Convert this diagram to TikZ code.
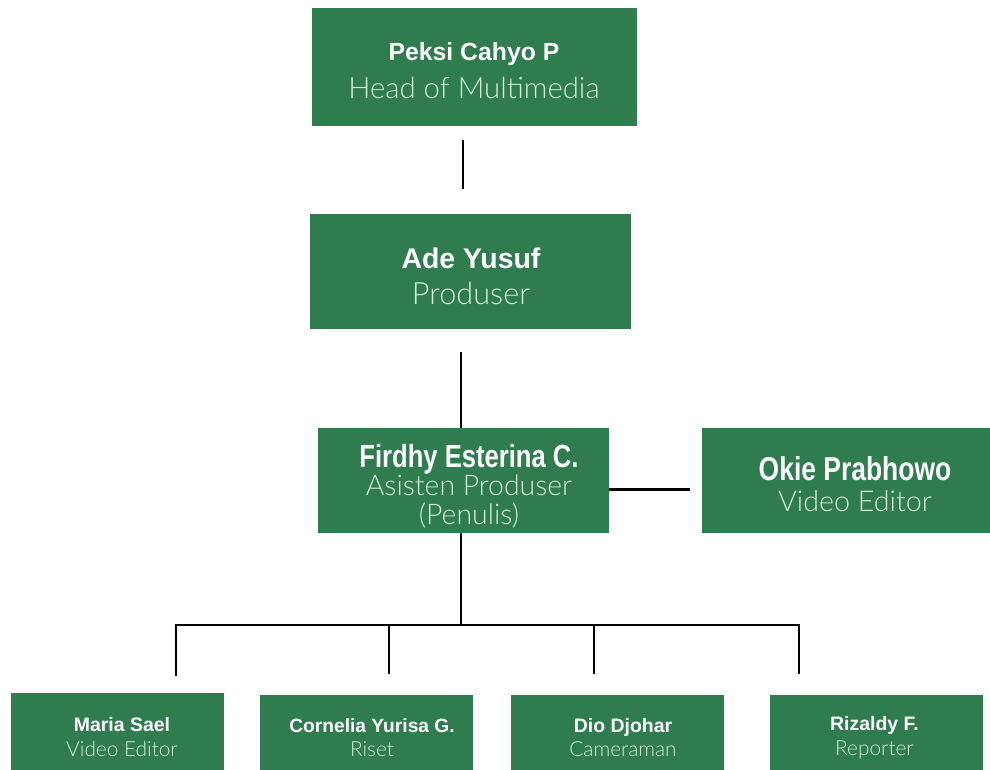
\documentclass[tikz,border=0pt]{standalone}
\usepackage{fontspec}
\setmainfont{Liberation Sans}
\newfontfamily\lightf{Lato Light}
\newfontfamily\narrowf{Liberation Sans}[FakeStretch=0.8]
\definecolor{boxgreen}{HTML}{2F7D4E}
\definecolor{rolecol}{HTML}{D6EDD8}
\begin{document}
\begin{tikzpicture}[x=0.75pt,y=-0.75pt,
  box/.style={fill=boxgreen, draw=none, inner sep=0pt},
  txt/.style={inner sep=0pt, align=center, text=white},
  conn/.style={line width=2.2pt, draw=black}]
\useasboundingbox (0,0) rectangle (990,770);
% main boxes
\node[box, minimum width=243.75pt, minimum height=88.5pt] (b1) at (474.5,67) {};
\node[box, minimum width=240.75pt, minimum height=86.25pt] (b2) at (470.5,271.5) {};
\node[box, minimum width=218.25pt, minimum height=78.75pt] (b3) at (463.5,480.5) {};
\node[box, minimum width=216pt, minimum height=78.75pt] (b4) at (846,480.5) {};
% bottom boxes
\node[box, minimum width=159.75pt, minimum height=57.75pt] (ba) at (117.5,731.5) {};
\node[box, minimum width=159.75pt, minimum height=56.25pt] (bb) at (366.5,732.5) {};
\node[box, minimum width=159.75pt, minimum height=56.25pt] (bc) at (617.5,732.5) {};
\node[box, minimum width=159.75pt, minimum height=56.25pt] (bd) at (876.5,732.5) {};
% texts
\node[txt, font=\fontsize{18.6}{28.5}\selectfont] (t1) at (474,71)
  {{\bfseries Peksi Cahyo P}\\{\fontsize{22}{28.5}\selectfont\lightf\color{rolecol}Head of Multimedia}};
\node[txt, font=\fontsize{21.3}{27}\selectfont] (t2) at (471,276.5)
  {{\bfseries Ade Yusuf}\\{\fontsize{23}{27}\selectfont\lightf\color{rolecol}Produser}};
\node[txt, font=\fontsize{24}{21.5}\selectfont] (t3) at (469,486)
  {{\narrowf\bfseries Firdhy Esterina C.}\\{\fontsize{21.3}{21.5}\selectfont\lightf\color{rolecol}Asisten Produser}\\{\fontsize{21.3}{21.5}\selectfont\lightf\color{rolecol}(Penulis)}};
\node[txt, font=\fontsize{24.8}{23.2}\selectfont] (t4) at (855,484)
  {{\narrowf\bfseries Okie Prabhowo}\\{\fontsize{21.5}{23.2}\selectfont\lightf\color{rolecol}Video Editor}};
\node[txt, font=\fontsize{14.6}{18.5}\selectfont] (ta) at (122,737)
  {{\bfseries Maria Sael}\\{\fontsize{15.6}{18.5}\selectfont\lightf\color{rolecol}Video Editor}};
\node[txt, font=\fontsize{14.4}{18.5}\selectfont] (tb) at (372,737.5)
  {{\bfseries Cornelia Yurisa G.}\\{\fontsize{15.6}{18.5}\selectfont\lightf\color{rolecol}Riset}};
\node[txt, font=\fontsize{14.6}{18.5}\selectfont] (tc) at (623,737.5)
  {{\bfseries Dio Djohar}\\{\fontsize{15.6}{18.5}\selectfont\lightf\color{rolecol}Cameraman}};
\node[txt, font=\fontsize{14.6}{18.5}\selectfont] (td) at (874.5,737.5)
  {{\bfseries Rizaldy F.}\\{\fontsize{15.6}{18.5}\selectfont\lightf\color{rolecol}Reporter}};
% coordinates
\coordinate (bus) at (461,625);
\coordinate (ja) at (176,625);
\coordinate (jb) at (389,625);
\coordinate (jc) at (594,625);
\coordinate (jd) at (799,625);
\coordinate (da) at (176,676);
\coordinate (db) at (389,674);
\coordinate (dc) at (594,674);
\coordinate (dd) at (799,674);
% connectors
\draw[conn, shorten <=10.5pt, shorten >=18.75pt] (b1.south -| 463,0) -- (b2.north -| 463,0);
\draw[conn, shorten <=17.25pt] (b2.south -| 461,0) -- (b3.north -| 461,0);
\draw[conn, shorten >=9pt] ([yshift=-6.4pt]b3.east) -- ([yshift=-6.4pt]b3.east -| b4.west);
\draw[conn] (b3.south -| bus) -- (bus);
\draw[conn] (da) -- (ja) -- (jd) -- (dd);
\draw[conn] (jb) -- (db);
\draw[conn] (jc) -- (dc);
\end{tikzpicture}
\end{document}
